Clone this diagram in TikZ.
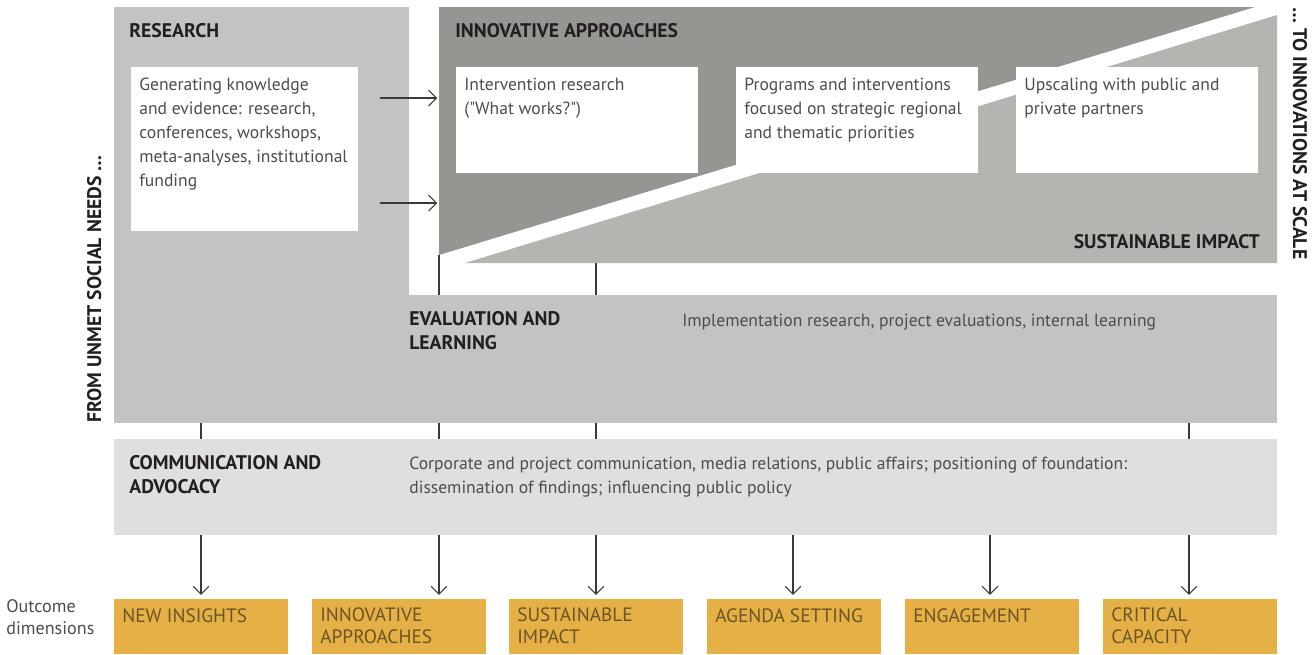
\documentclass[tikz,border=0pt]{standalone}
\usepackage{fontspec}
\setmainfont{PT Sans}
\usepackage{xcolor}
\usepackage{tikz}
\usetikzlibrary{arrows.meta}

\definecolor{resgray}{HTML}{C3C3C1}
\definecolor{innovgray}{HTML}{959692}
\definecolor{impactgray}{HTML}{B4B5B1}
\definecolor{commgray}{HTML}{DFDFDD}
\definecolor{outyellow}{HTML}{E5B045}
\definecolor{bodytext}{HTML}{4D4D4D}
\definecolor{headtext}{HTML}{231F20}
\definecolor{outtext}{HTML}{6B5426}
\definecolor{linkgray}{HTML}{3A3A3A}

\newcommand{\pxu}{0.02cm}

% multi-line texts sit on the baseline of their last line
\tikzset{
    panel/.style={anchor=north west, inner sep=0pt, outer sep=0pt},
    sz/.style 2 args={minimum width=#1*\pxu, minimum height=#2*\pxu},
    head/.style={anchor=base west, inner sep=0pt, align=left, text=headtext,
        font=\fontsize{11.2}{13.6}\selectfont\bfseries},
    body/.style={anchor=base west, inner sep=0pt, align=left, text=bodytext,
        font=\fontsize{10}{13.6}\selectfont},
    outbox/.style={panel, fill=outyellow, sz={174}{55}},
    outlabel/.style={anchor=base west, inner sep=0pt, align=left, text=outtext,
        font=\fontsize{11}{12}\selectfont},
    link/.style={draw=linkgray, line width=0.6pt},
}

\begin{document}
\begin{tikzpicture}[x=0.02cm, y=-0.02cm, >={Straight Barb[length=4.5pt, width=9pt]}]
    \useasboundingbox (0,0) rectangle (1312,654);

    \node[panel, fill=resgray, sz={295}{416}] (research) at (114,7) {};
    \node[panel, fill=resgray, sz={868}{128}] (eval) at (409,295) {};
    \node[panel, fill=commgray, sz={1163}{96}] (comm) at (114,439) {};

    \coordinate (innovtop) at (439,7);
    \coordinate (innovbase) at (439,255);
    \coordinate (impacttop) at (1277,15);
    \coordinate (impactbase) at (1277,263);
    \fill[innovgray] (innovtop) -- (1255,7) -- (innovbase) -- cycle;
    \fill[impactgray] (465,263) -- (impactbase) -- (impacttop) -- cycle;

    \node[panel, fill=white, sz={227}{164}] (resbox) at (131,67) {};
    \node[panel, fill=white, sz={242}{106}] (ibox1) at (456,67) {};
    \node[panel, fill=white, sz={242}{106}] (ibox2) at (736,67) {};
    \node[panel, fill=white, sz={242}{106}] (ibox3) at (1016,67) {};

    \node[head] (researchhead) at ([shift={(15,30)}]research.north west) {RESEARCH};
    \node[body] (restext) at ([shift={(8,119)}]resbox.north west) {Generating knowledge\\and evidence: research,\\conferences, workshops,\\meta-analyses, institutional\\funding};
    \node[head] (innovhead) at ([shift={(16,30)}]innovtop) {INNOVATIVE APPROACHES};
    \node[body] (itext1) at ([shift={(8,47)}]ibox1.north west) {Intervention research\\(\textquotedbl What works?\textquotedbl)};
    \node[body] (itext2) at ([shift={(8,71)}]ibox2.north west) {Programs and interventions\\focused on strategic regional\\and thematic priorities};
    \node[body] (itext3) at ([shift={(8,47)}]ibox3.north west) {Upscaling with public and\\private partners};
    \node[head, anchor=base east] (impacthead) at ([shift={(-17,-15)}]impactbase) {SUSTAINABLE IMPACT};
    \node[head] (evalhead) at ([shift={(0,54)}]eval.north west) {EVALUATION AND\\LEARNING};
    \node[body] (evaltext) at ([shift={(273,31)}]eval.north west) {Implementation research, project evaluations, internal learning};
    \node[head] (commhead) at ([shift={(15,54)}]comm.north west) {COMMUNICATION AND\\ADVOCACY};
    \node[body] (commtext) at ([shift={(295,54)}]comm.north west) {Corporate and project communication, media relations, public affairs; positioning of foundation:\\dissemination of findings; influencing public policy};

    \node[head, rotate=90] (fromneeds) at (101,423) {FROM UNMET SOCIAL NEEDS \dots};
    \node[head, rotate=-90] (toscale) at (1293,7) {\dots\ TO INNOVATIONS AT SCALE};

    \node[outbox] (newins) at (114,599) {};
    \node[outbox] (innovout) at (312,599) {};
    \node[outbox] (impactout) at (509,599) {};
    \node[outbox] (agenda) at (707,599) {};
    \node[outbox] (engage) at (905,599) {};
    \node[outbox] (capacity) at (1103,599) {};
    \node[outlabel] at ([shift={(8,23)}]newins.north west) {NEW INSIGHTS};
    \node[outlabel] at ([shift={(8,44)}]innovout.north west) {INNOVATIVE\\APPROACHES};
    \node[outlabel] at ([shift={(8,44)}]impactout.north west) {SUSTAINABLE\\IMPACT};
    \node[outlabel] at ([shift={(8,23)}]agenda.north west) {AGENDA SETTING};
    \node[outlabel] at ([shift={(8,23)}]engage.north west) {ENGAGEMENT};
    \node[outlabel] at ([shift={(8,44)}]capacity.north west) {CRITICAL\\CAPACITY};
    \node[body, font=\fontsize{10.3}{12.5}\selectfont] (outcomes) at (6,634) {Outcome\\dimensions};

    \coordinate (colA) at (201,0);
    \coordinate (colB) at (439,0);
    \coordinate (colC) at (596,0);
    \coordinate (colD) at (793,0);
    \coordinate (colE) at (990,0);
    \coordinate (colF) at (1189,0);
    \coordinate (feedA) at (380,98);
    \coordinate (feedB) at (380,203);

    \draw[link, ->] (feedA) -- ([xshift=-1pt]innovbase |- feedA);
    \draw[link, ->] (feedB) -- ([xshift=-1pt]innovbase |- feedB);

    \draw[link] (innovbase) -- (colB |- eval.north);
    \draw[link] (colC |- impactbase) -- (colC |- eval.north);
    \draw[link] (colA |- research.south) -- (colA |- comm.north);
    \draw[link] (colB |- eval.south) -- (colB |- comm.north);
    \draw[link] (colC |- eval.south) -- (colC |- comm.north);
    \draw[link] (colF |- eval.south) -- (colF |- comm.north);

    \draw[link, ->, shorten >=2.3pt] (colA |- comm.south) -- (colA |- newins.north);
    \draw[link, ->, shorten >=2.3pt] (colB |- comm.south) -- (colB |- innovout.north);
    \draw[link, ->, shorten >=2.3pt] (colC |- comm.south) -- (colC |- impactout.north);
    \draw[link, ->, shorten >=2.3pt] (colD |- comm.south) -- (colD |- agenda.north);
    \draw[link, ->, shorten >=2.3pt] (colE |- comm.south) -- (colE |- engage.north);
    \draw[link, ->, shorten >=2.3pt] (colF |- comm.south) -- (colF |- capacity.north);
\end{tikzpicture}
\end{document}
